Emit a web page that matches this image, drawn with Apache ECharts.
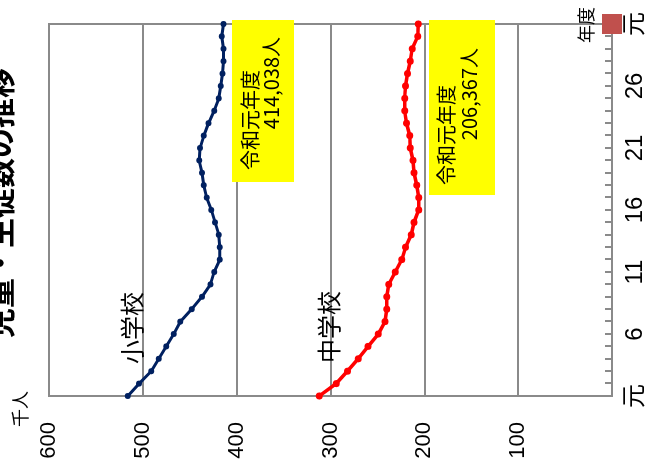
<!DOCTYPE html>
<html>
<head>
<meta charset="utf-8">
<script src="https://cdn.jsdelivr.net/npm/echarts@6/dist/echarts.min.js"></script>
<style>
  html, body { margin: 0; padding: 0; width: 663px; height: 465px; overflow: hidden; background: #fff; }
  /* the chart is laid out upright and turned a quarter turn counter-clockwise */
  #chart {
    position: absolute; left: 0; top: 0;
    width: 465px; height: 663px;
    transform-origin: 0 0;
    transform: translate(0, 465px) rotate(-90deg);
  }
</style>
</head>
<body>
<div id="chart"></div>
<script>
// Fiscal years: Heisei 1 .. Heisei 30, then Reiwa 1
const years = ['H1','H2','H3','H4','H5','H6','H7','H8','H9','H10',
  'H11','H12','H13','H14','H15','H16','H17','H18','H19','H20',
  'H21','H22','H23','H24','H25','H26','H27','H28','H29','H30','R1'];

// Pupils, thousands
const elementary = [516, 504, 491, 483, 475, 467, 460, 448, 437, 428,
  424, 418, 418, 419, 423, 427, 432, 435, 437, 440,
  439, 435, 430, 424, 419, 417, 415, 414, 414, 416, 414.038];
const juniorHigh = [312, 294, 282, 270.5, 260, 249, 242, 240, 240, 238,
  231, 224, 220, 214, 211, 206, 206, 208, 211, 212,
  215, 215.5, 219, 221, 221, 220, 218, 215, 213, 207, 206.367];

// Value-axis ticks (thousands)
const valueTicks = [0, 100, 200, 300, 400, 500, 600];

// Square key drawn at the end of the year axis
const keyMark = [['R1', 0]];

const GRAY = '#8a8a8a';
const FONT = 'Liberation Sans, "Noto Sans CJK JP", sans-serif';
const JP = '"Noto Sans CJK JP", sans-serif';

function yearLabel(name) {
  const n = name.slice(1);
  return n === '1' ? '元' : n;
}
function peopleText(v) {
  return Math.round(v * 1000).toLocaleString('en-US') + '人';
}

const lastE = elementary[elementary.length - 1];
const lastJ = juniorHigh[juniorHigh.length - 1];

const chart = echarts.init(document.getElementById('chart'), null, { renderer: 'canvas' });

chart.setOption({
  animation: false,
  backgroundColor: '#ffffff',
  grid: {
    left: 69, right: 24, top: 49, bottom: 51,
    show: true, borderColor: GRAY, borderWidth: 2, backgroundColor: 'transparent'
  },
  xAxis: {
    type: 'category',
    data: years,
    boundaryGap: false,
    axisLine: { show: true, lineStyle: { color: GRAY, width: 2 } },
    axisTick: { show: true, inside: true, length: 7, interval: 0, lineStyle: { color: GRAY, width: 2 } },
    axisLabel: {
      interval: 4, margin: 11, color: '#000',
      fontFamily: FONT, fontSize: 24,
      formatter: yearLabel
    },
    splitLine: { show: false }
  },
  yAxis: {
    type: 'value',
    min: valueTicks[0], max: valueTicks[valueTicks.length - 1], interval: 100,
    axisLine: { show: true, lineStyle: { color: GRAY, width: 2 } },
    axisTick: { show: false },
    axisLabel: {
      margin: 26, color: '#000', fontFamily: FONT, fontSize: 22,
      formatter: v => (v === 0 ? '' : String(v))
    },
    splitLine: { show: true, lineStyle: { color: GRAY, width: 2 } }
  },
  series: [
    {
      name: '小学校', type: 'line', data: elementary,
      symbol: 'circle', symbolSize: 6,
      lineStyle: { color: '#002060', width: 3 },
      itemStyle: { color: '#002060' },
      z: 3
    },
    {
      name: '中学校', type: 'line', data: juniorHigh,
      symbol: 'circle', symbolSize: 7,
      lineStyle: { color: '#ff0000', width: 3.5 },
      itemStyle: { color: '#ff0000' },
      z: 3
    },
    {
      name: 'key', type: 'scatter', data: keyMark,
      symbol: 'rect', symbolSize: 20, clip: false,
      itemStyle: { color: '#c0504d', opacity: 1 },
      z: 20, zlevel: 1
    }
  ],
  graphic: [
    { type: 'text', x: 262, y: 0, z: 10,
      style: { text: '児童・生徒数の推移', fill: '#000', font: 'bold 30px ' + JP, align: 'center', verticalAlign: 'middle' } },
    { type: 'text', x: 56, y: 20, z: 10,
      style: { text: '千人', fill: '#000', font: '18px ' + JP, align: 'center', verticalAlign: 'middle' } },
    { type: 'text', x: 440, y: 586, z: 10,
      style: { text: '年度', fill: '#000', font: '18px ' + JP, align: 'center', verticalAlign: 'middle' } },
    { type: 'text', x: 137, y: 132, z: 10,
      style: { text: '小学校', fill: '#000', font: '24px ' + JP, align: 'center', verticalAlign: 'middle' } },
    { type: 'text', x: 138, y: 329, z: 10,
      style: { text: '中学校', fill: '#000', font: '24px ' + JP, align: 'center', verticalAlign: 'middle' } },
    { type: 'rect', z: 9, shape: { x: 283, y: 232, width: 162, height: 62 }, style: { fill: '#ffff00' } },
    { type: 'text', x: 295, y: 250, z: 10,
      style: { text: '令和元年度', fill: '#000', font: '20px ' + JP, align: 'left', verticalAlign: 'middle' } },
    { type: 'text', x: 428, y: 271, z: 10,
      style: { text: peopleText(lastE), fill: '#000', font: '20px ' + JP, align: 'right', verticalAlign: 'middle' } },
    { type: 'rect', z: 9, shape: { x: 270, y: 429, width: 175, height: 66 }, style: { fill: '#ffff00' } },
    { type: 'text', x: 280, y: 446, z: 10,
      style: { text: '令和元年度', fill: '#000', font: '20px ' + JP, align: 'left', verticalAlign: 'middle' } },
    { type: 'text', x: 417, y: 469, z: 10,
      style: { text: peopleText(lastJ), fill: '#000', font: '20px ' + JP, align: 'right', verticalAlign: 'middle' } }
  ]
});
</script>
</body>
</html>
